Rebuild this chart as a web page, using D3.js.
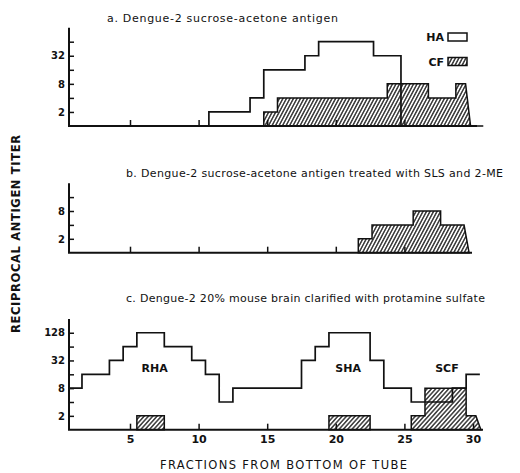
<!DOCTYPE html>
<html>
<head>
<meta charset="utf-8">
<script src="https://cdn.jsdelivr.net/npm/d3@7"></script>
<style>
body { margin: 0; background: #fff; }
svg { display: block; }
text { font-family: "DejaVu Sans", sans-serif; fill: #111; }
.title { font-size: 11px; }
.tick text { font-size: 10px; font-weight: bold; fill: #111; }
.tick line { stroke: #111; stroke-width: 1.5; }
.axis-line { stroke: #111; stroke-width: 2; fill: none; }
.ha { stroke: #111; stroke-width: 1.7; fill: none; }
.cf { stroke: #111; stroke-width: 1.5; }
.label { font-size: 11px; font-weight: bold; }
</style>
</head>
<body>
<svg id="chart" width="520" height="473"></svg>
<script>
"use strict";

// fraction numbers, bottom of tube first
var fractions = d3.range(1, 31);

// titers per fraction (0 = HA below 2, null = no CF)
var a_ha = [0, 0, 0, 0, 0, 0, 0, 0, 0, 0, 2, 2, 2, 4, 16, 16, 16, 32, 64, 64, 64, 64, 32, 32, 0, 0, 0, 0, 0, 0];
var a_cf = [null, null, null, null, null, null, null, null, null, null, null, null, null, null, 2, 4, 4, 4, 4, 4, 4, 4, 4, 8, 8, 8, 4, 4, 8, null];
var b_cf = [null, null, null, null, null, null, null, null, null, null, null, null, null, null, null, null, null, null, null, null, null, 2, 4, 4, 4, 8, 8, 4, 4, null];
var c_ha = [8, 16, 16, 32, 64, 128, 128, 64, 64, 32, 16, 4, 8, 8, 8, 8, 8, 32, 64, 128, 128, 128, 32, 8, 8, 4, 4, 4, 8, 16];
var c_cf = [null, null, null, null, null, 2, 2, null, null, null, null, null, null, null, null, null, null, null, null, 2, 2, 2, null, null, null, 2, 8, 8, 8, 2];

var panel_titles = [
    "a.  Dengue-2 sucrose-acetone antigen",
    "b.  Dengue-2 sucrose-acetone antigen treated with SLS and 2-ME",
    "c.  Dengue-2 20% mouse brain clarified with protamine sulfate"
];
var x_ticks = [5, 10, 15, 20, 25, 30];
var peak_labels = ["RHA", "SHA", "SCF"];
var peak_fractions = [6.8, 20.9, 28.1];
var legend_items = ["HA", "CF"];

var svg = d3.select("#chart");

var x = d3.scaleLinear().domain([0, 30]).range([61.4, 473]);

// hatch patterns
var defs = svg.append("defs");
function add_hatch(id, gap, angle) {
    defs.append("pattern")
        .attr("id", id)
        .attr("patternUnits", "userSpaceOnUse")
        .attr("width", gap)
        .attr("height", 10)
        .attr("patternTransform", "rotate(" + angle + ")")
        .append("line")
        .attr("x1", gap / 2).attr("x2", gap / 2)
        .attr("y1", 0).attr("y2", 10)
        .attr("stroke", "#111")
        .attr("stroke-width", 1.25);
}
add_hatch("hatch-ab", 3.1, 28);
add_hatch("hatch-c", 3.2, 42);

var panels = [
    {title: panel_titles[0], ha: a_ha, cf: a_cf, base: 126, step: 14.05, top: 7,
     shift: 0.25, axis_end: 477, tx: 107, ty: 21.5, tw: 231, hatch: "hatch-ab", labels: false},
    {title: panel_titles[1], ha: null, cf: b_cf, base: 252.7, step: 13.9, top: 5,
     shift: 0.36, axis_end: 472, tx: 126, ty: 177, tw: 377, hatch: "hatch-ab", labels: false},
    {title: panel_titles[2], ha: c_ha, cf: c_cf, base: 429.7, step: 13.85, top: 8,
     shift: 0.5, axis_end: 483, tx: 126, ty: 302, tw: 359, hatch: "hatch-c", labels: true}
];

panels.forEach(function (p) {
    var y = d3.scaleLog().base(2)
        .domain([1, Math.pow(2, p.top)])
        .range([p.base, p.base - p.top * p.step]);

    var g = svg.append("g");

    // bin edges for a fraction
    function bin_start(f) { return x(f - p.shift); }
    function bin_end(f) { return x(f - p.shift + 1); }

    // CF: hatched runs of consecutive fractions
    var runs = [], run = null;
    fractions.forEach(function (f, i) {
        var v = p.cf[i];
        if (v === null) { run = null; return; }
        if (run === null) { run = []; runs.push(run); }
        run.push({f: f, v: v});
    });
    runs.forEach(function (r) {
        var last = r[r.length - 1];
        var slanted = last.f >= 29;
        var pts = [[bin_start(r[0].f), y(1)]];
        r.forEach(function (d, i) {
            pts.push([bin_start(d.f), y(d.v)]);
            if (i < r.length - 1) pts.push([bin_end(d.f), y(d.v)]);
        });
        var xe = bin_end(last.f);
        pts.push([slanted ? xe - 4 : xe, y(last.v)]);
        pts.push([slanted ? xe + 1 : xe, y(1)]);
        g.append("path")
            .attr("class", "cf")
            .attr("fill", "url(#" + p.hatch + ")")
            .attr("d", "M" + pts.join("L") + "Z");
    });

    // HA: step line
    if (p.ha) {
        var ha_pts = fractions.map(function (f, i) {
            return [f - p.shift, Math.max(p.ha[i], 1)];
        });
        ha_pts.push([30 - p.shift + 1, Math.max(p.ha[29], 1)]);
        g.append("path")
            .attr("class", "ha")
            .attr("d", d3.line()
                .curve(d3.curveStepAfter)
                .x(function (d) { return x(d[0]); })
                .y(function (d) { return y(d[1]); })(ha_pts));
    }

    // axes
    var y_vals = d3.range(1, p.top).map(function (e) { return Math.pow(2, e); });
    g.append("g")
        .attr("transform", "translate(69,0)")
        .call(d3.axisLeft(y)
            .tickValues(y_vals)
            .tickSizeInner(-5)
            .tickSizeOuter(0)
            .tickPadding(4)
            .tickFormat(function (v) {
                return Math.round(Math.log2(v)) % 2 === 1 ? v : "";
            }))
        .call(function (s) { s.select(".domain").remove(); });

    g.append("g")
        .attr("transform", "translate(0," + p.base + ")")
        .call(d3.axisBottom(x)
            .tickValues(p.labels ? x_ticks : x_ticks.slice(0, 5))
            .tickSizeInner(-6)
            .tickSizeOuter(0)
            .tickPadding(6)
            .tickFormat(function (v) { return p.labels ? v : ""; }))
        .call(function (s) {
            s.select(".domain").remove();
            s.selectAll(".tick text").style("font-size", "11px");
        });

    g.append("path")
        .attr("class", "axis-line")
        .attr("d", "M69," + y.range()[1] + "V" + p.base + "H" + p.axis_end);

    // panel title
    g.append("text")
        .attr("class", "title")
        .attr("x", p.tx)
        .attr("y", p.ty)
        .attr("textLength", p.tw)
        .attr("lengthAdjust", "spacing")
        .text(p.title);

    if (p.labels) {
        g.selectAll("text.peak")
            .data(peak_labels)
            .enter().append("text")
            .attr("class", "label peak")
            .attr("text-anchor", "middle")
            .attr("x", function (d, i) { return x(peak_fractions[i]); })
            .attr("y", y(16) - 2)
            .text(function (d) { return d; });
    }
});

// legend
var legend = svg.append("g");
legend_items.forEach(function (name, i) {
    var cy = 37 + i * 24.5;
    legend.append("text")
        .attr("class", "label")
        .attr("x", 444)
        .attr("y", cy + 4)
        .attr("text-anchor", "end")
        .text(name);
    legend.append("rect")
        .attr("x", 448)
        .attr("y", cy - 4)
        .attr("width", 19)
        .attr("height", 8)
        .attr("fill", i === 0 ? "#fff" : "url(#hatch-ab)")
        .attr("stroke", "#111")
        .attr("stroke-width", 1.5);
});

// axis titles
svg.append("text")
    .attr("class", "label")
    .attr("transform", "translate(20,234) rotate(-90)")
    .attr("text-anchor", "middle")
    .attr("textLength", 198)
    .attr("lengthAdjust", "spacing")
    .style("font-size", "11.5px")
    .text("RECIPROCAL ANTIGEN TITER");

svg.append("text")
    .attr("class", "label")
    .attr("x", 160)
    .attr("y", 469)
    .attr("textLength", 247)
    .attr("lengthAdjust", "spacing")
    .style("font-size", "11.5px")
    .style("font-weight", "normal")
    .text("FRACTIONS FROM BOTTOM OF TUBE");
</script>
</body>
</html>
